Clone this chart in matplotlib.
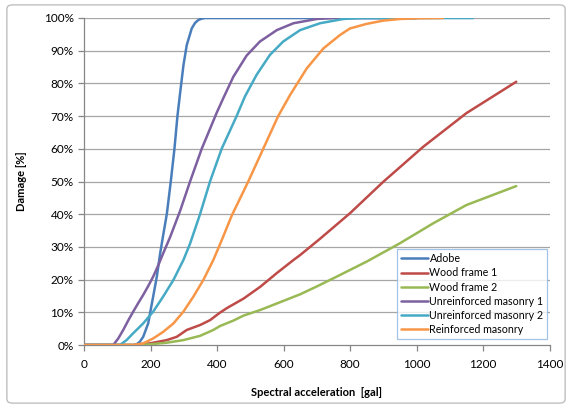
import matplotlib
matplotlib.use("Agg")
import matplotlib.pyplot as plt
from matplotlib.patches import FancyBboxPatch
from matplotlib.ticker import FuncFormatter

plt.rcParams['font.family'] = ['Lato', 'DejaVu Sans']

# ---- data ----
adobe_x = [0, 150, 158, 168, 178, 193, 208, 219, 229, 238, 249, 261, 272, 281, 289, 299, 309, 324, 334, 344, 354, 364, 450, 600, 800, 1000]
adobe_y = [0, 0, 0.2, 1.0, 2.5, 6.6, 14.8, 20.9, 28, 33.5, 40, 50, 60, 70, 77, 85.5, 91.7, 96.8, 98.5, 99.4, 99.8, 100, 100, 100, 100, 100]

wood1_x = [0, 150, 198, 249, 279, 309, 349, 379, 409, 430, 480, 530, 580, 630, 650, 710, 800, 900, 1020, 1150, 1300]
wood1_y = [0, 0, 0.5, 1.5, 2.5, 4.6, 6.1, 7.6, 9.9, 11.3, 14.2, 17.8, 22, 26, 27.5, 32.5, 40.3, 49.9, 60.6, 70.9, 80.5]

wood2_x = [0, 150, 198, 249, 299, 349, 389, 409, 450, 480, 530, 600, 650, 700, 750, 850, 950, 1050, 1150, 1300]
wood2_y = [0, 0, 0.2, 0.7, 1.5, 2.8, 4.6, 5.8, 7.5, 9, 10.7, 13.5, 15.5, 17.9, 20.4, 25.5, 31.1, 37.2, 42.8, 48.6]

urm1_x = [0, 88, 103, 118, 133, 148, 163, 178, 193, 208, 223, 238, 259, 289, 319, 354, 399, 419, 449, 489, 529, 580, 630, 700, 750, 850, 1000]
urm1_y = [0, 0, 2, 4.6, 7.5, 10.2, 12.8, 15.3, 18, 20.9, 24.3, 28, 33, 41, 50, 60, 71, 75.5, 82, 88.5, 92.8, 96.3, 98.4, 99.7, 100, 100, 100]

urm2_x = [0, 108, 128, 148, 178, 208, 238, 269, 299, 319, 349, 379, 414, 459, 484, 519, 559, 599, 650, 710, 780, 830, 1000, 1170]
urm2_y = [0, 0, 1.5, 3.6, 6.6, 10.2, 14.8, 19.9, 26, 31, 40, 50, 60, 70, 76, 82.6, 88.7, 92.8, 96.3, 98.4, 99.7, 100, 100, 100]

rm_x = [0, 150, 178, 208, 238, 269, 299, 329, 359, 389, 414, 444, 494, 539, 584, 620, 670, 720, 770, 800, 850, 900, 950, 1000, 1080]
rm_y = [0, 0, 0.5, 2, 4, 6.6, 10.2, 14.8, 19.9, 26, 32, 39.5, 50, 60, 70, 76.5, 84.6, 90.7, 94.8, 96.8, 98.2, 99.2, 99.7, 99.9, 100]

series_names = ["Adobe", "Wood frame 1", "Wood frame 2", "Unreinforced masonry 1", "Unreinforced masonry 2", "Reinforced masonry"]
series_x = [adobe_x, wood1_x, wood2_x, urm1_x, urm2_x, rm_x]
series_y = [adobe_y, wood1_y, wood2_y, urm1_y, urm2_y, rm_y]
colors = ["#4a7ebb", "#be4b48", "#98b954", "#7d60a0", "#46aac5", "#f79646"]

x_ticks = [0, 200, 400, 600, 800, 1000, 1200, 1400]
y_ticks = [0, 10, 20, 30, 40, 50, 60, 70, 80, 90, 100]

# ---- figure ----
fig = plt.figure(figsize=(5.72, 4.08), dpi=100)
border = FancyBboxPatch((0.012, 0.012), 0.976, 0.976, boxstyle="round,pad=0,rounding_size=0.01",
                        transform=fig.transFigure, fill=False, edgecolor="#bfbfbf", linewidth=1.0)
fig.patches.append(border)

ax = fig.add_axes([84/572, (408-345)/408, (549.5-84)/572, (345-18)/408])

for yv in y_ticks[1:]:
    ax.axhline(yv, color="#a6a6a6", linewidth=0.9, zorder=1)

for name, xs, ys, c in zip(series_names, series_x, series_y, colors):
    ax.plot(xs, ys, color=c, linewidth=1.8, label=name, zorder=3,
            solid_capstyle='round', solid_joinstyle='round')

ax.set_xlim(0, 1400)
ax.set_ylim(0, 100)
ax.set_xticks(x_ticks)
ax.set_yticks(y_ticks)
ax.yaxis.set_major_formatter(FuncFormatter(lambda v, p: f"{int(v)}%"))

for s in ["top", "right"]:
    ax.spines[s].set_visible(False)
for s in ["left", "bottom"]:
    ax.spines[s].set_color("#868686")
    ax.spines[s].set_linewidth(0.9)
ax.tick_params(axis="both", colors="#868686", labelcolor="#000000", labelsize=8.5, length=4, width=0.9, direction="out")
ax.tick_params(axis="x", pad=6)

ax.set_xlabel("Spectral acceleration  [gal]", fontsize=8, fontweight="bold", labelpad=12)
ax.set_ylabel("Damage [%]", fontsize=8, fontweight="bold", labelpad=12)

leg = ax.legend(loc="lower right", bbox_to_anchor=(1.0, 0.012), fontsize=7.7, frameon=True, fancybox=False,
                handlelength=2.6, handletextpad=0.1, borderpad=0.35, labelspacing=0.3, borderaxespad=0.2)
leg.get_frame().set_edgecolor("#8eb4e3")
leg.get_frame().set_linewidth(0.9)

fig.savefig("out.png", dpi=100)
